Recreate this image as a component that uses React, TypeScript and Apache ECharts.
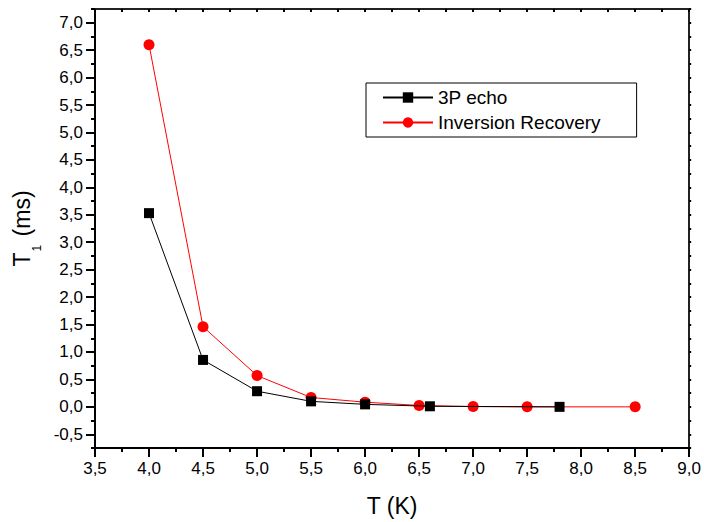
import React, { useEffect, useRef } from "react";
import * as echarts from "echarts";

const echoT = [4.0, 4.5, 5.0, 5.5, 6.0, 6.6, 7.8];
const echoT1 = [3.53, 0.855, 0.285, 0.1, 0.045, 0.01, 0.0];
const irT = [4.0, 4.5, 5.0, 5.5, 6.0, 6.5, 7.0, 7.5, 8.5];
const irT1 = [6.6, 1.46, 0.57, 0.17, 0.085, 0.025, 0.005, 0.0, 0.0];

const yMajorTicks = [-0.5, 0, 0.5, 1, 1.5, 2, 2.5, 3, 3.5, 4, 4.5, 5, 5.5, 6, 6.5, 7];
const yMinorTicks = [-0.75, -0.25, 0.25, 0.75, 1.25, 1.75, 2.25, 2.75, 3.25, 3.75, 4.25, 4.75, 5.25, 5.75, 6.25, 6.75, 7.25];

const FONT = "Liberation Sans, Arial, sans-serif";
const fmt = (v: number) => v.toFixed(1).replace(".", ",");

export default function App() {
  const ref = useRef<HTMLDivElement>(null);
  useEffect(() => {
    if (!ref.current) return;
    const chart = echarts.init(ref.current, null, { renderer: "svg" });
    const axisLine = { show: true, onZero: false, lineStyle: { color: "#000", width: 2 } };
    const frameLine = { show: true, onZero: false, lineStyle: { color: "#222", width: 2 } };
    chart.setOption({
      animation: false,
      backgroundColor: "#fff",
      textStyle: { fontFamily: FONT },
      grid: { left: 95, right: 13, top: 9, bottom: 73, containLabel: false },
      legend: {
        left: 366,
        top: 83,
        orient: "vertical",
        borderColor: "#000",
        borderWidth: 1,
        padding: [5, 36, 5, 16],
        itemGap: 6,
        itemWidth: 50,
        itemHeight: 13,
        textStyle: { fontFamily: FONT, fontSize: 19, color: "#000" },
        data: ["3P echo", "Inversion Recovery"],
      },
      xAxis: [
        {
          type: "value",
          min: 3.5,
          max: 9.0,
          interval: 0.5,
          position: "bottom",
          axisLine,
          axisTick: { show: true, inside: false, length: 9, lineStyle: { width: 2, color: "#000" } },
          minorTick: { show: true, splitNumber: 2, length: 4, lineStyle: { width: 2, color: "#000" } },
          splitLine: { show: false },
          axisLabel: { formatter: fmt, fontFamily: FONT, fontSize: 17, color: "#000", margin: 12 },
          name: "T (K)",
          nameLocation: "middle",
          nameGap: 46,
          nameTextStyle: { fontFamily: FONT, fontSize: 23, color: "#000" },
        },
        {
          type: "value",
          min: 3.5,
          max: 9.0,
          interval: 0.5,
          position: "top",
          axisLine: frameLine,
          axisTick: { show: true, inside: true, length: 3, lineStyle: { width: 2, color: "#000" } },
          minorTick: { show: true, splitNumber: 2, length: 3, lineStyle: { width: 2, color: "#000" } },
          splitLine: { show: false },
          axisLabel: { show: false },
        },
      ],
      yAxis: [
        {
          type: "value",
          min: -0.75,
          max: 7.25,
          interval: 0.25,
          position: "left",
          axisLine,
          axisTick: { show: true, length: 9, customValues: yMajorTicks, lineStyle: { width: 2, color: "#000" } },
          splitLine: { show: false },
          axisLabel: { customValues: yMajorTicks, formatter: fmt, fontFamily: FONT, fontSize: 17, color: "#000", margin: 12 },
          name: "{a|T}{b|1}{a| (ms)}",
          nameLocation: "middle",
          nameGap: 50,
          nameTextStyle: {
            fontFamily: FONT,
            color: "#000",
            rich: {
              a: { fontFamily: FONT, fontSize: 23, color: "#000", verticalAlign: "top", lineHeight: 26 },
              b: { fontFamily: FONT, fontSize: 12, color: "#000", verticalAlign: "top", lineHeight: 12, padding: [20, 2, 0, 1] },
            },
          },
        },
        {
          type: "value",
          min: -0.75,
          max: 7.25,
          interval: 0.25,
          position: "left",
          axisLine: { show: false, onZero: false },
          axisTick: { show: true, length: 4, customValues: yMinorTicks, lineStyle: { width: 2, color: "#000" } },
          splitLine: { show: false },
          axisLabel: { show: false },
        },
        {
          type: "value",
          min: -0.75,
          max: 7.25,
          interval: 0.25,
          position: "right",
          axisLine: frameLine,
          axisTick: { show: true, inside: false, length: 2, lineStyle: { width: 2, color: "#000" } },
          splitLine: { show: false },
          axisLabel: { show: false },
        },
      ],
      series: [
        {
          name: "3P echo",
          type: "line",
          xAxisIndex: 0,
          yAxisIndex: 0,
          data: echoT.map((t, i) => [t, echoT1[i]]),
          symbol: "rect",
          symbolSize: 10,
          itemStyle: { color: "#000" },
          lineStyle: { color: "#000", width: 1 },
          z: 3,
        },
        {
          name: "Inversion Recovery",
          type: "line",
          xAxisIndex: 0,
          yAxisIndex: 0,
          data: irT.map((t, i) => [t, irT1[i]]),
          symbol: "circle",
          symbolSize: 11,
          itemStyle: { color: "#ff0000" },
          lineStyle: { color: "#ff0000", width: 1 },
          z: 2,
        },
      ],
    });
    return () => chart.dispose();
  }, []);
  return <div ref={ref} style={{ position: "fixed", left: 0, top: 0, width: 704, height: 522 }} />;
}
